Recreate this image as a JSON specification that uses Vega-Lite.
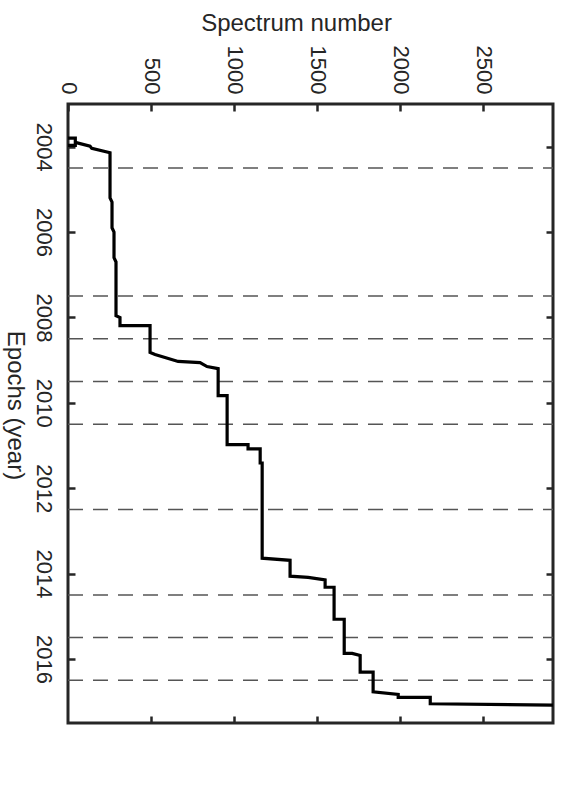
{
  "$schema": "https://vega.github.io/schema/vega-lite/v6.json",
  "width": 485,
  "height": 619,
  "autosize": {"type": "none"},
  "padding": {"left": 68, "top": 104, "right": 15, "bottom": 78},
  "background": "white",
  "config": {
    "view": {"stroke": "#262626", "strokeWidth": 3},
    "axis": {
      "domain": false,
      "grid": false,
      "labelFont": "Liberation Sans",
      "titleFont": "Liberation Sans",
      "labelColor": "#262626",
      "titleColor": "#262626",
      "tickColor": "#262626",
      "tickWidth": 2.5,
      "tickSize": -7,
      "labelFontSize": 22,
      "titleFontSize": 24,
      "titleFontWeight": "normal",
      "labelFlush": false,
      "labelOverlap": false
    }
  },
  "datasets": {
    "steps": [
      {"seg": "a", "i": 1, "n": 0, "year": 2003.76},
      {"seg": "a", "i": 2, "n": 0, "year": 2003.8},
      {"seg": "a", "i": 3, "n": 44, "year": 2003.8},
      {"seg": "a", "i": 4, "n": 44, "year": 2003.97},
      {"seg": "a", "i": 5, "n": 0, "year": 2003.97},
      {"seg": "b", "i": 7, "n": 44, "year": 2003.9},
      {"seg": "b", "i": 8, "n": 133, "year": 2003.99},
      {"seg": "b", "i": 9, "n": 143, "year": 2004.04},
      {"seg": "b", "i": 10, "n": 253, "year": 2004.14},
      {"seg": "b", "i": 11, "n": 253, "year": 2005.2},
      {"seg": "b", "i": 12, "n": 265, "year": 2005.3},
      {"seg": "b", "i": 13, "n": 265, "year": 2005.9},
      {"seg": "b", "i": 14, "n": 277, "year": 2006.0},
      {"seg": "b", "i": 15, "n": 277, "year": 2006.6},
      {"seg": "b", "i": 16, "n": 289, "year": 2006.7},
      {"seg": "b", "i": 17, "n": 289, "year": 2007.96},
      {"seg": "b", "i": 18, "n": 313, "year": 2008.0},
      {"seg": "b", "i": 19, "n": 313, "year": 2008.19},
      {"seg": "b", "i": 20, "n": 494, "year": 2008.19},
      {"seg": "b", "i": 21, "n": 494, "year": 2008.82},
      {"seg": "b", "i": 22, "n": 524, "year": 2008.87},
      {"seg": "b", "i": 23, "n": 584, "year": 2008.94},
      {"seg": "b", "i": 24, "n": 663, "year": 2009.03},
      {"seg": "b", "i": 25, "n": 795, "year": 2009.06},
      {"seg": "b", "i": 26, "n": 837, "year": 2009.15},
      {"seg": "b", "i": 27, "n": 904, "year": 2009.2},
      {"seg": "b", "i": 28, "n": 904, "year": 2009.83},
      {"seg": "b", "i": 29, "n": 958, "year": 2009.83},
      {"seg": "b", "i": 30, "n": 958, "year": 2010.98},
      {"seg": "b", "i": 31, "n": 1084, "year": 2010.98},
      {"seg": "b", "i": 32, "n": 1084, "year": 2011.08},
      {"seg": "b", "i": 33, "n": 1157, "year": 2011.08},
      {"seg": "b", "i": 34, "n": 1157, "year": 2011.41},
      {"seg": "b", "i": 35, "n": 1169, "year": 2011.41},
      {"seg": "b", "i": 36, "n": 1169, "year": 2013.64},
      {"seg": "b", "i": 37, "n": 1337, "year": 2013.69},
      {"seg": "b", "i": 38, "n": 1337, "year": 2014.06},
      {"seg": "b", "i": 39, "n": 1446, "year": 2014.09},
      {"seg": "b", "i": 40, "n": 1548, "year": 2014.15},
      {"seg": "b", "i": 41, "n": 1548, "year": 2014.32},
      {"seg": "b", "i": 42, "n": 1602, "year": 2014.32},
      {"seg": "b", "i": 43, "n": 1602, "year": 2015.07},
      {"seg": "b", "i": 44, "n": 1663, "year": 2015.07},
      {"seg": "b", "i": 45, "n": 1663, "year": 2015.87},
      {"seg": "b", "i": 46, "n": 1711, "year": 2015.87},
      {"seg": "b", "i": 47, "n": 1759, "year": 2015.92},
      {"seg": "b", "i": 48, "n": 1759, "year": 2016.31},
      {"seg": "b", "i": 49, "n": 1837, "year": 2016.31},
      {"seg": "b", "i": 50, "n": 1837, "year": 2016.77},
      {"seg": "b", "i": 51, "n": 1988, "year": 2016.83},
      {"seg": "b", "i": 52, "n": 1988, "year": 2016.9},
      {"seg": "b", "i": 53, "n": 2181, "year": 2016.9},
      {"seg": "b", "i": 54, "n": 2181, "year": 2017.05},
      {"seg": "b", "i": 55, "n": 2920, "year": 2017.08}
    ],
    "epochs": [
      {"year": 2004.5},
      {"year": 2007.5},
      {"year": 2008.5},
      {"year": 2009.5},
      {"year": 2010.5},
      {"year": 2012.5},
      {"year": 2014.5},
      {"year": 2015.5},
      {"year": 2016.5}
    ]
  },
  "layer": [
    {
      "data": {"name": "epochs"},
      "mark": {"type": "rule", "stroke": "#555555", "strokeWidth": 1.5, "strokeDash": [15, 10]},
      "encoding": {
        "x": {
          "datum": 0,
          "type": "quantitative",
          "scale": {"domain": [0, 2920], "nice": false, "zero": false},
          "axis": {"orient": "bottom", "labels": false, "title": null, "values": [500, 1000, 1500, 2000, 2500]}
        },
        "x2": {"datum": 2920},
        "y": {
          "field": "year",
          "type": "quantitative",
          "scale": {"domain": [2003, 2017.5], "reverse": true, "nice": false, "zero": false},
          "axis": {"orient": "right", "labels": false, "title": null, "values": [2004, 2006, 2008, 2010, 2012, 2014, 2016]}
        }
      }
    },
    {
      "data": {"name": "steps"},
      "mark": {"type": "line", "stroke": "#000000", "strokeWidth": 3.2, "strokeJoin": "miter", "clip": true},
      "encoding": {
        "x": {
          "field": "n",
          "type": "quantitative",
          "scale": {"domain": [0, 2920], "nice": false, "zero": false},
          "axis": {
            "orient": "top",
            "values": [0, 500, 1000, 1500, 2000, 2500],
            "format": "d",
            "labelAngle": 90,
            "labelAlign": "right",
            "labelBaseline": "middle",
            "labelPadding": 17,
            "title": "Spectrum number",
            "titleAngle": 0,
            "titleAlign": "center",
            "titleBaseline": "alphabetic",
            "titleX": 228,
            "titleY": -74
          }
        },
        "y": {
          "field": "year",
          "type": "quantitative",
          "scale": {"domain": [2003, 2017.5], "reverse": true, "nice": false, "zero": false},
          "axis": {
            "orient": "left",
            "values": [2004, 2006, 2008, 2010, 2012, 2014, 2016],
            "format": "d",
            "labelAngle": 90,
            "labelAlign": "center",
            "labelBaseline": "top",
            "labelPadding": 22,
            "title": "Epochs (year)",
            "titleAngle": 90,
            "titleAlign": "center",
            "titleBaseline": "alphabetic",
            "titleX": -61,
            "titleY": 301
          }
        },
        "detail": {"field": "seg", "type": "nominal"},
        "order": {"field": "i", "type": "quantitative"}
      }
    }
  ],
  "resolve": {"axis": {"x": "independent", "y": "independent"}}
}
